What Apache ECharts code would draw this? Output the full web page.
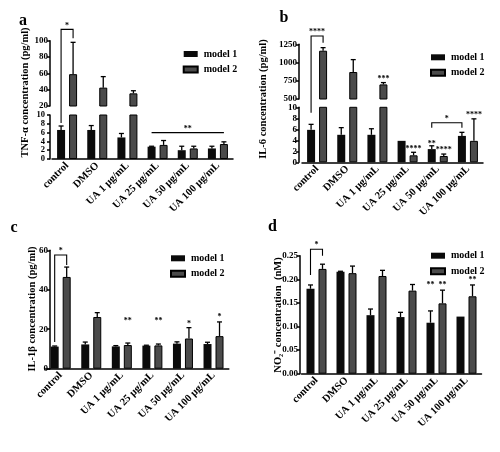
<!DOCTYPE html>
<html><head><meta charset="utf-8">
<script src="https://cdn.jsdelivr.net/npm/echarts@6/dist/echarts.min.js"></script>
<style>html,body{margin:0;padding:0;background:#fff}#c{width:500px;height:452px}</style>
</head><body><div id="c"></div>
<script>
// ---------- data ----------
const categories = ['control', 'DMSO', 'UA 1 μg/mL', 'UA 25 μg/mL', 'UA 50 μg/mL', 'UA 100 μg/mL'];
const seriesNames = ['model 1', 'model 2'];

// a: TNF-α (pg/ml)
const tnfModel1 = [6.6, 6.6, 4.9, 2.8, 2.0, 2.4];
const tnfModel1Err = [0.9, 1.0, 0.9, 0.1, 0.9, 0.5];
const tnfModel2 = [59, 42.5, 35.5, 3.2, 2.4, 3.4];
const tnfModel2Err = [39, 13.5, 3.2, 1.0, 0.5, 0.5];
const tnfUpperTicks = [20, 100, 20];
const tnfLowerTicks = [0, 10, 2];
const tnfLowerTickLabels = [0, 2, 4, 6, 8, 10];

// b: IL-6 (pg/ml)
const il6Model1 = [5.9, 5.0, 5.0, 3.9, 2.4, 4.8];
const il6Model1Err = [1.0, 1.3, 1.1, 0, 0.6, 0.65];
const il6Model2 = [1162, 870, 700, 1.27, 1.15, 3.9];
const il6Model2Err = [42, 170, 25, 0.55, 0.35, 4.0];
const il6UpperTicks = [500, 1250, 250];
const il6LowerTicks = [0, 10, 2];

// c: IL-1β (pg/ml)
const il1bModel1 = [11.2, 12.3, 11.3, 11.7, 12.7, 12.5];
const il1bModel1Err = [0.3, 1.2, 0.4, 0.2, 0.9, 0.9];
const il1bModel2 = [46.5, 26.2, 12.0, 11.8, 15.3, 16.5];
const il1bModel2Err = [5.0, 2.2, 1.0, 0.7, 5.5, 7.2];
const il1bTicks = [0, 60, 20];

// d: NO2- (nM)
const no2Model1 = [0.180, 0.216, 0.124, 0.120, 0.108, 0.121];
const no2Model1Err = [0.008, 0.001, 0.013, 0.010, 0.025, 0];
const no2Model2 = [0.222, 0.213, 0.207, 0.176, 0.149, 0.164];
const no2Model2Err = [0.010, 0.015, 0.012, 0.013, 0.028, 0.024];
const no2Ticks = [0, 0.25, 0.05];

// significance brackets: [gridTop, topValue, cat1, ser1, grid1, leg1Value, cat2, ser2, grid2, leg2Value, text]
const sigBrackets = [
  [0, 113.9, 0, 0, 1, 8.2, 0, 1, 0, 102.9, '*'],
  [1, 6.0, 3, 0, 1, 6.0, 5, 1, 1, 6.0, '**'],
  [2, 1364, 0, 0, 3, 9.0, 0, 1, 2, 1272, '****'],
  [3, 7.2, 4, 0, 3, 6.3, 5, 0, 3, 6.3, '*'],
  [4, 57.6, 0, 0, 4, 13.5, 0, 1, 4, 52.5, '*'],
  [5, 0.2636, 0, 0, 5, 0.209, 0, 1, 5, 0.250, '*']
];
// stars over single bars: [grid, cat, ser, value, text]
const sigStars = [
  [2, 2, 1, 800, '***'], [3, 3, 1, 2.8, '****'], [3, 4, 0, 3.6, '**'], [3, 4, 1, 2.5, '****'], [3, 5, 1, 8.9, '****'],
  [4, 2, 1, 25, '**'], [4, 3, 1, 25, '**'], [4, 4, 1, 23.7, '*'], [4, 5, 1, 26.9, '*'],
  [5, 4, 0, 0.1915, '**'], [5, 4, 1, 0.1915, '**'], [5, 5, 1, 0.202, '**']
];

// ---------- style ----------
const FONT = '"Liberation Serif","Times New Roman",serif';
const C1 = '#0b0b0b', C2 = '#4b4b4b';
const BW = 8, GAP = 4, OFF = (BW + GAP) / 2;

const grids = [], xAxes = [], yAxes = [], series = [];

function addGrid(box, ticks, showX, yOffset, fmt, showYLabels) {
  const gi = grids.length;
  grids.push(box);
  xAxes.push({
    type: 'category', gridIndex: gi, data: categories, show: showX,
    axisLine: { lineStyle: { color: '#000', width: 1.5 } },
    axisTick: { alignWithLabel: true, length: 3, lineStyle: { color: '#000', width: 1.5 } },
    axisLabel: { rotate: 45, margin: 5, interval: 0, fontFamily: FONT, fontWeight: 'bold', fontSize: 10.5, color: '#000' }
  });
  yAxes.push({
    type: 'value', gridIndex: gi, min: ticks[0], max: ticks[1], interval: ticks[2], offset: yOffset,
    axisLine: { show: true, lineStyle: { color: '#000', width: 1.5 } },
    axisTick: { show: true, length: 3, lineStyle: { color: '#000', width: 1.5 } },
    splitLine: { show: false },
    axisLabel: { show: showYLabels !== false, margin: 2, showMinLabel: true, showMaxLabel: true, hideOverlap: false,
      fontFamily: FONT, fontWeight: 'bold', fontSize: 9, lineHeight: 7, color: '#000', formatter: fmt || (v => String(v)) }
  });
  return gi;
}

function addSeries(gi, vals, errs) {
  vals.forEach((v, s) => {
    series.push({
      type: 'bar', name: seriesNames[s], xAxisIndex: gi, yAxisIndex: gi, data: v,
      barWidth: BW, barGap: (GAP / BW * 100) + '%', clip: true, silent: true,
      itemStyle: { color: s ? C2 : C1, borderColor: '#000', borderWidth: s ? 1 : 0 }
    });
  });
  vals.forEach((v, s) => {
    series.push({
      type: 'custom', name: seriesNames[s] + ' SD', xAxisIndex: gi, yAxisIndex: gi, silent: true, z: 3,
      data: v.map((val, i) => [i, val, errs[s][i]]),
      encode: { x: 0, y: 1 },
      renderItem: function (params, api) {
        const cat = api.value(0), val = api.value(1), err = api.value(2);
        if (!err) return;
        const p0 = api.coord([cat, val]), p1 = api.coord([cat, val + err]);
        const cs = params.coordSys;
        const yMin = cs.y, yMax = cs.y + cs.height;
        if (p1[1] > yMax || p0[1] < yMin) return;
        const x = p0[0] + (s ? OFF : -OFF);
        const y0 = Math.min(p0[1], yMax), y1 = Math.max(p1[1], yMin);
        const children = [{ type: 'line', shape: { x1: x, y1: y0, x2: x, y2: y1 }, style: { stroke: '#000', lineWidth: 1.3 } }];
        if (p1[1] >= yMin) children.push({ type: 'line', shape: { x1: x - 2.5, y1: p1[1], x2: x + 2.5, y2: p1[1] }, style: { stroke: '#000', lineWidth: 1.3 } });
        return { type: 'group', children: children };
      }
    });
  });
}

// panel a (broken axis)
const gAu = addGrid({ left: 52, top: 40.7, width: 181, height: 65.3 }, tnfUpperTicks, false, 2);
const gAl = addGrid({ left: 52, top: 115, width: 181, height: 44 }, tnfLowerTicks, true, 2, null, false);
addSeries(gAu, [tnfModel1, tnfModel2], [tnfModel1Err, tnfModel2Err]);
addSeries(gAl, [tnfModel1, tnfModel2], [tnfModel1Err, tnfModel2Err]);
// panel b (broken axis)
const gBu = addGrid({ left: 302, top: 44.3, width: 181, height: 54.7 }, il6UpperTicks, false, 3);
const gBl = addGrid({ left: 302, top: 107.3, width: 181, height: 55 }, il6LowerTicks, true, 3);
addSeries(gBu, [il6Model1, il6Model2], [il6Model1Err, il6Model2Err]);
addSeries(gBl, [il6Model1, il6Model2], [il6Model1Err, il6Model2Err]);
// panel c
const gC = addGrid({ left: 45.4, top: 250.3, width: 183.4, height: 118.4 }, il1bTicks, true, -4.6);
addSeries(gC, [il1bModel1, il1bModel2], [il1bModel1Err, il1bModel2Err]);
// panel d
const gD = addGrid({ left: 301.5, top: 255.7, width: 180, height: 118 }, no2Ticks, true, 1.5, v => v.toFixed(2));
addSeries(gD, [no2Model1, no2Model2], [no2Model1Err, no2Model2Err]);

const legendPos = [[177.7, 43.5], [425, 46.8], [165, 247.8], [425, 245.2]];
const legends = legendPos.map(p => ({
  left: p[0], top: p[1], orient: 'vertical', data: seriesNames, icon: 'rect',
  itemWidth: 14, itemHeight: 6, itemGap: 4.5, selectedMode: false,
  textStyle: { fontFamily: FONT, fontWeight: 'bold', fontSize: 10, color: '#000', lineHeight: 11, padding: [0, 0, 0, 1] }
}));

function txt(x, y, text, size, rot, align) {
  return { type: 'text', x: x, y: y, rotation: rot || 0, silent: true,
    style: { text: text, fontFamily: FONT, fontWeight: 'bold', fontSize: size, fill: '#000', align: align || 'center', verticalAlign: 'middle' } };
}
const staticGraphics = [
  txt(23, 21, 'a', 16), txt(284, 18.3, 'b', 16), txt(14, 228.3, 'c', 16), txt(272.5, 227.3, 'd', 16),
  txt(25, 92.5, 'TNF-α concentration (pg/ml)', 10.5, Math.PI / 2),
  txt(263.3, 99, 'IL-6 concentration (pg/ml)', 10.5, Math.PI / 2),
  txt(32, 309, 'IL-1β concentration (pg/ml)', 10.5, Math.PI / 2),
  txt(278.3, 315, 'NO₂⁻ concentration  (nM)', 10.5, Math.PI / 2)
];

const chart = echarts.init(document.getElementById('c'));
chart.setOption({
  animation: false,
  grid: grids, xAxis: xAxes, yAxis: yAxes, series: series, legend: legends,
  graphic: staticGraphics
});

// annotations placed through the axes' own scales
function P(g, cat, s, v) {
  const p = chart.convertToPixel({ gridIndex: g }, [cat, v]);
  return [p[0] + (s === null ? 0 : (s ? OFF : -OFF)), p[1]];
}
const ann = [];
// tick labels of the tightly spaced lower axis of panel a
const axisXA = chart.convertToPixel({ gridIndex: gAl }, [0, 0])[0];
const gridLeftA = grids[gAl].left - 2;
tnfLowerTickLabels.forEach(t => {
  const y = chart.convertToPixel({ gridIndex: gAl }, [0, t])[1];
  ann.push(txt(gridLeftA - 5, y, String(t), 8.5, 0, 'right'));
});
const STAR = 8;
sigBrackets.forEach(b => {
  const top = P(b[0], b[2], b[3], b[1])[1];
  const pA = P(b[4], b[2], b[3], b[5]);
  const pB = P(b[8], b[6], b[7], b[9]);
  ann.push({ type: 'polyline', silent: true, shape: { points: [[pA[0], pA[1]], [pA[0], top], [pB[0], top], [pB[0], pB[1]]] },
    style: { stroke: '#000', lineWidth: 1.1, fill: null } });
  ann.push(txt((pA[0] + pB[0]) / 2, top - 5.5 + STAR * 0.2, b[10], STAR));
});
sigStars.forEach(s => {
  const p = P(s[0], s[1], s[2], s[3]);
  ann.push(txt(p[0], p[1] + STAR * 0.2, s[4], STAR));
});
chart.setOption({ graphic: staticGraphics.concat(ann) });
</script></body></html>
